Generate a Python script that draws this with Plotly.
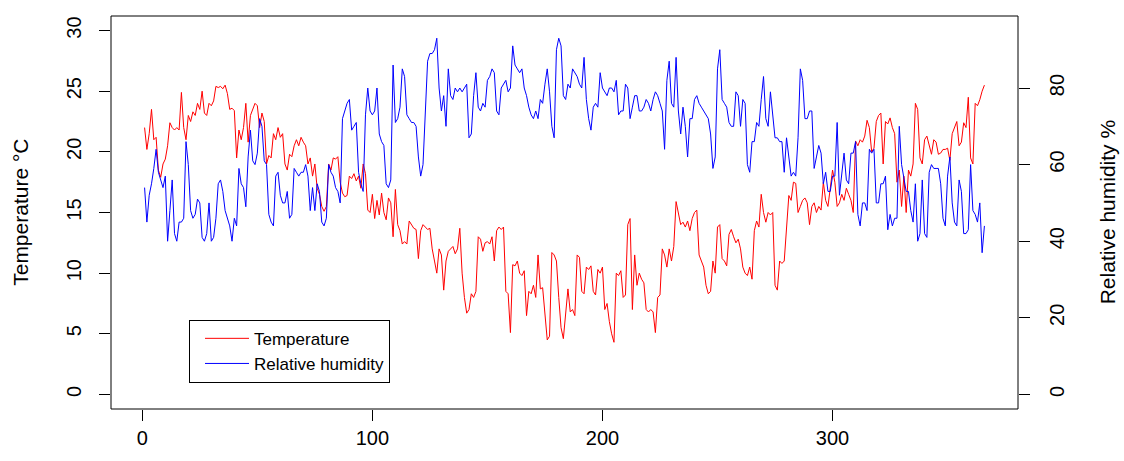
import plotly.graph_objects as go

temperature = [
    22.0, 20.2, 21.5, 23.5, 21.0, 21.2, 18.5, 17.9, 19.0, 19.4,
    20.5, 22.4, 22.0, 21.8, 22.0, 21.8, 24.9, 22.0, 21.0, 23.0,
    22.5, 23.3, 23.0, 24.0, 23.5, 25.0, 23.2, 23.0, 24.0, 23.8,
    24.2, 25.4, 25.3, 25.4, 25.2, 25.5, 24.8, 23.5, 23.6, 23.4,
    19.5, 21.8, 21.0, 22.0, 24.0, 20.8, 23.0, 23.5, 24.0, 23.8,
    22.0, 23.2, 22.5, 19.0, 19.7, 19.5, 21.5, 21.0, 22.0, 21.2,
    21.5, 19.0, 18.5, 19.8, 19.6, 20.5, 21.0, 20.5, 21.2, 20.8,
    20.5, 19.0, 19.5, 18.0, 19.0, 17.0, 16.5, 15.5, 15.1, 15.5,
    19.0, 18.5, 19.5, 19.4, 19.6, 17.5, 16.6, 16.3, 16.4, 18.0,
    17.8, 18.2, 17.6, 18.0, 17.0, 19.0, 18.2, 15.2, 15.0, 16.5,
    14.5, 16.0, 14.8, 16.6, 15.0, 14.4, 16.2, 15.8, 13.0, 16.9,
    14.0, 13.5, 12.4, 12.6, 12.4, 14.3, 14.0, 13.7, 13.6, 11.2,
    13.5, 14.0, 13.8, 13.6, 13.7, 12.0, 11.0, 10.0, 12.0, 11.5,
    8.6, 11.0, 11.8, 12.0, 12.2, 11.6, 12.0, 13.7, 10.0, 8.0,
    6.7, 7.0, 8.3, 8.0, 8.5, 13.0, 12.8, 11.8, 12.5, 12.6,
    12.4, 13.0, 11.0, 13.5, 13.8, 13.6, 13.8, 8.5, 8.3, 5.1,
    10.7, 10.6, 11.0, 10.0, 9.8, 10.2, 6.5, 8.5, 8.3, 9.0,
    8.0, 11.5, 8.7, 8.8, 6.5, 4.5, 4.8, 11.7, 11.5, 11.0,
    8.0, 5.5, 4.6, 6.5, 8.7, 6.8, 7.0, 6.5, 11.5, 11.3,
    8.5, 8.3, 10.5, 10.3, 10.6, 8.5, 8.2, 10.3, 10.0, 10.5,
    7.0, 7.5, 6.0, 5.0, 4.3, 10.0, 9.8, 10.2, 8.0, 8.2,
    14.0, 14.5, 7.0, 11.5, 9.0, 10.0, 9.5, 9.2, 7.0, 6.8,
    7.0, 6.8, 5.1, 8.0, 8.2, 12.0, 11.5, 10.5, 12.0, 11.0,
    12.2, 15.9, 15.0, 14.0, 14.2, 13.8, 14.3, 13.5, 14.5, 15.0,
    15.2, 11.5, 11.0, 10.5, 9.0, 8.3, 8.5, 11.0, 10.0, 13.8,
    14.0, 11.2, 11.0, 10.6, 13.2, 13.6, 13.0, 12.5, 12.8, 12.0,
    10.5, 10.0, 9.8, 10.5, 9.5, 13.5, 14.3, 13.8, 16.5, 15.0,
    14.2, 15.0, 14.8, 15.0, 9.0, 8.6, 11.0, 10.8, 11.0, 14.0,
    16.4, 16.0, 17.5, 17.4, 15.0, 15.5, 16.0, 16.2, 15.8, 14.0,
    15.5, 15.8, 15.0, 15.5, 15.2, 17.5, 16.0, 15.5, 17.0, 18.5,
    17.5, 15.5, 15.8, 16.5, 16.0, 17.0, 16.5, 16.0, 15.0, 20.9,
    20.5, 21.0, 20.8, 21.3, 22.6, 22.0, 20.0, 20.3, 22.5, 23.0,
    23.2, 19.0, 22.5, 22.3, 22.8, 22.0, 21.5, 17.5, 18.5, 15.5,
    18.0, 15.0, 18.5, 18.0, 19.0, 24.0, 23.5, 19.5, 19.0, 21.0,
    21.3, 20.5, 19.8, 21.0, 20.8, 19.8, 19.9, 20.2, 20.2, 20.3,
    19.3, 21.5, 22.0, 22.5, 20.5, 20.8, 22.4, 22.0, 24.5, 19.5,
    19.0, 24.0, 23.8, 24.3, 25.0, 25.5,
]

humidity = [
    54, 45, 52, 55, 59, 64, 58, 56, 54, 57,
    40, 48, 56, 42, 40, 45, 45, 46, 66, 60,
    48, 46, 47, 51, 50, 41, 40, 42, 50, 40,
    41, 46, 55, 56, 53, 48, 46, 44, 40, 46,
    44, 59, 55, 54, 49, 62, 69, 61, 60, 63,
    72, 70, 61, 60, 47, 45, 44, 57, 58, 52,
    50, 50, 53, 46, 47, 59, 58, 57, 58, 58,
    60, 57, 48, 54, 48, 55, 53, 45, 44, 46,
    60, 58, 57, 54, 53, 50, 72, 74, 76, 77,
    69, 70, 71, 58, 55, 53, 73, 80, 74, 73,
    74, 80, 68, 66, 65, 55, 54, 56, 86, 71,
    72, 75, 85, 83, 73, 72, 71, 71, 70, 62,
    57, 60, 75, 87, 89, 89, 90, 93, 80, 74,
    78, 70, 85, 78, 77, 80, 79, 80, 79, 80,
    81, 67, 68, 78, 84, 75, 74, 76, 75, 82,
    83, 85, 84, 74, 73, 80, 81, 82, 79, 80,
    91, 86, 85, 84, 85, 80, 78, 75, 73, 72,
    74, 72, 77, 76, 81, 85, 79, 70, 67, 90,
    93, 91, 78, 77, 81, 80, 85, 84, 83, 81,
    80, 88, 77, 72, 69, 75, 76, 75, 84, 80,
    79, 78, 80, 80, 79, 82, 73, 74, 74, 81,
    80, 72, 75, 78, 78, 74, 74, 75, 77, 76,
    74, 77, 79, 78, 76, 74, 64, 82, 87, 76,
    75, 88, 74, 68, 75, 70, 62, 72, 72, 77,
    78, 76, 75, 74, 73, 72, 68, 59, 62, 85,
    90, 77, 76, 75, 71, 70, 70, 79, 78, 70,
    77, 76, 60, 58, 66, 66, 71, 70, 77, 83,
    72, 70, 79, 73, 67, 67, 66, 66, 58, 67,
    62, 57, 58, 57, 67, 85, 82, 72, 72, 74,
    74, 59, 62, 65, 63, 55, 58, 53, 53, 57,
    57, 71, 52, 58, 63, 56, 55, 63, 63, 66,
    47, 44, 50, 50, 48, 64, 63, 64, 50, 50,
    55, 55, 57, 43, 47, 44, 46, 46, 70, 60,
    56, 53, 53, 48, 45, 55, 40, 42, 56, 42,
    41, 58, 60, 59, 59, 59, 55, 46, 44, 57,
    62, 50, 45, 44, 56, 53, 42, 42, 43, 60,
    48, 47, 45, 50, 37, 44,
]

days = list(range(1, len(temperature) + 1))

x_ticks = [0, 100, 200, 300]
temp_ticks = [0, 5, 10, 15, 20, 25, 30]
hum_ticks = [0, 20, 40, 60, 80]
temp_lim = (0, 30)
hum_lim = (0, 95)


def r_range(lo, hi):
    ext = (hi - lo) * 0.04
    return [lo - ext, hi + ext]


FONT = "Liberation Sans, Arial, sans-serif"

fig = go.Figure()
fig.add_trace(go.Scatter(x=days, y=temperature, mode="lines", name="Temperature",
                         line=dict(color="#FF0000", width=1), yaxis="y"))
fig.add_trace(go.Scatter(x=days, y=humidity, mode="lines", name="Relative humidity",
                         line=dict(color="#0000FF", width=1), yaxis="y2"))

axis_common = dict(ticks="outside", ticklen=11, tickwidth=1, tickcolor="#000",
                   showgrid=False, zeroline=False, showline=False,
                   tickfont=dict(family=FONT, size=20, color="#000"))

fig.update_layout(
    width=1124, height=461,
    margin=dict(l=111, r=106, t=16, b=49),
    paper_bgcolor="white", plot_bgcolor="white",
    font=dict(family=FONT, color="#000"),
    xaxis=dict(range=r_range(min(days), max(days)), tickvals=x_ticks, **axis_common),
    yaxis=dict(range=r_range(*temp_lim), tickvals=temp_ticks, tickangle=-90,
               ticklabelstandoff=10, **axis_common),
    yaxis2=dict(range=r_range(*hum_lim), tickvals=hum_ticks, tickangle=-90,
                overlaying="y", side="right", ticklabelstandoff=10, **axis_common),
    showlegend=True,
    legend=dict(x=0.086, y=0.227, xanchor="left", yanchor="top",
                bordercolor="#000", borderwidth=1, bgcolor="white",
                font=dict(family=FONT, size=17, color="#000"),
                itemwidth=44, indentation=10, tracegroupgap=0),
    shapes=[dict(type="rect", xref="paper", yref="paper", x0=0, y0=0, x1=1, y1=1,
                 line=dict(color="#000", width=1), layer="above")],
    annotations=[
        dict(text="Temperature °C", xref="paper", yref="paper", x=-0.100, y=0.5,
             textangle=-90, showarrow=False, font=dict(family=FONT, size=21, color="#000"),
             xanchor="center", yanchor="middle"),
        dict(text="Relative humidity %", xref="paper", yref="paper", x=1.099, y=0.5,
             textangle=-90, showarrow=False, font=dict(family=FONT, size=21, color="#000"),
             xanchor="center", yanchor="middle"),
    ],
)

fig.write_html("out.html", config={"displayModeBar": False},
               post_script="document.body.style.margin='0';document.body.style.padding='0';")
